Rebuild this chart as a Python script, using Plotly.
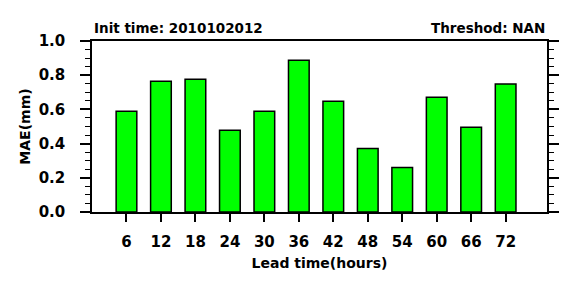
import plotly.graph_objects as go

lead_hours = [6, 12, 18, 24, 30, 36, 42, 48, 54, 60, 66, 72]
mae_values = [0.589, 0.765, 0.777, 0.478, 0.589, 0.888, 0.648, 0.372, 0.260, 0.671, 0.495, 0.748]
y_tick_vals = [0.0, 0.2, 0.4, 0.6, 0.8, 1.0]
y_tick_text = ["0.0", "0.2", "0.4", "0.6", "0.8", "1.0"]
left_title = "Init time: 2010102012"
right_title = "Threshod: NAN"

FONT = "DejaVu Sans, sans-serif"

fig = go.Figure()
fig.add_trace(go.Bar(
    x=lead_hours, y=mae_values, width=3.6,
    marker=dict(color="#00ff00", line=dict(color="black", width=1.5)),
))

fig.update_layout(
    width=582, height=286,
    margin=dict(l=92, r=35, t=41, b=74),
    paper_bgcolor="white", plot_bgcolor="white",
    showlegend=False,
    font=dict(family=FONT, color="black"),
)
fig.update_xaxes(
    range=[0, 79.2], tickvals=lead_hours, ticktext=[str(v) for v in lead_hours],
    ticks="outside", ticklen=8, tickwidth=1.5, tickcolor="black",
    showline=True, linecolor="black", linewidth=1.5, mirror=True,
    showgrid=False, zeroline=False,
    tickfont=dict(size=15, family=FONT, weight="bold"),
    ticklabelstandoff=7,
    title=dict(text="Lead time(hours)", font=dict(size=14, family=FONT, weight="bold"), standoff=8),
)
fig.update_yaxes(
    range=[0, 1.0], tickvals=y_tick_vals, ticktext=y_tick_text,
    ticks="outside", ticklen=10, tickwidth=1.5, tickcolor="black",
    minor=dict(dtick=0.05, ticks="outside", ticklen=5, tickwidth=1.2, tickcolor="black", showgrid=False),
    showline=True, linecolor="black", linewidth=1.5, mirror="ticks",
    showgrid=False, zeroline=False,
    tickfont=dict(size=15, family=FONT, weight="bold"),
    ticklabelstandoff=12,
    title=dict(text="MAE(mm)", font=dict(size=14, family=FONT, weight="bold"), standoff=5),
)
fig.add_annotation(text=left_title, xref="paper", yref="paper", x=0, y=1,
                   xanchor="left", yanchor="bottom", yshift=3, showarrow=False,
                   font=dict(size=13.5, family=FONT, weight="bold"))
fig.add_annotation(text=right_title, xref="paper", yref="paper", x=1, y=1,
                   xanchor="right", yanchor="bottom", yshift=3, showarrow=False,
                   font=dict(size=13.5, family=FONT, weight="bold"))

fig.write_html("out.html")
